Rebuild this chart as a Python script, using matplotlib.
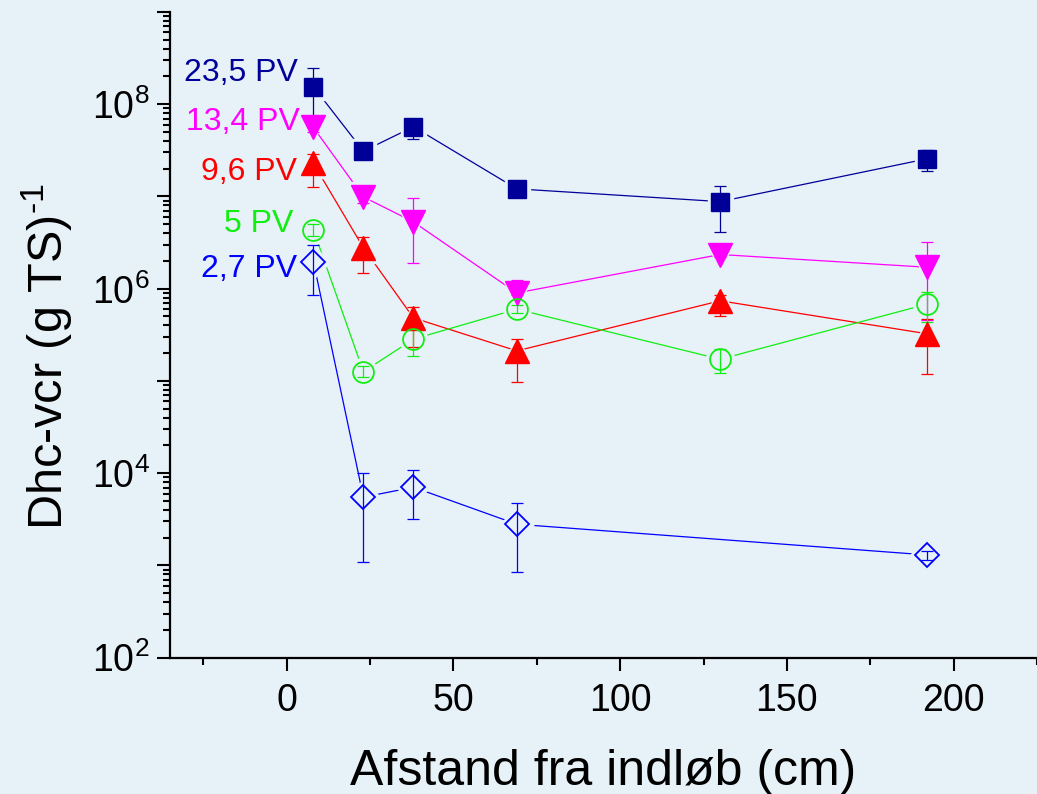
import numpy as np
import matplotlib
matplotlib.use("Agg")
import matplotlib.pyplot as plt
from matplotlib.ticker import MultipleLocator, LogLocator, FuncFormatter, NullFormatter

plt.rcParams['font.family'] = ['Liberation Sans', 'DejaVu Sans']
plt.rcParams['mathtext.fontset'] = 'custom'
plt.rcParams['mathtext.rm'] = 'Liberation Sans'
plt.rcParams['mathtext.it'] = 'Liberation Sans:italic'
plt.rcParams['mathtext.bf'] = 'Liberation Sans:bold'

# distance from inlet (cm)
dist = [8, 23, 38, 69, 130, 192]
dist_27 = [8, 23, 38, 69, 192]

# Dhc-vcr per g TS, value / lower error bound / upper error bound
pv235 = [1.55e8, 3.1e7, 5.7e7, 1.21e7, 8.8e6, 2.56e7]
pv235_lo = [6.5e7, 2.8e7, 4.2e7, 1.15e7, 4.1e6, 1.87e7]
pv235_hi = [2.5e8, 3.4e7, 6.2e7, 1.3e7, 1.31e7, 3.2e7]

pv134 = [5.6e7, 9.9e6, 5.3e6, 9.0e5, 2.35e6, 1.71e6]
pv134_lo = [5.0e7, 8.5e6, 1.9e6, 8.5e5, 2.2e6, 4.6e5]
pv134_hi = [6.2e7, 1.2e7, 9.7e6, 1.24e6, 3.0e6, 3.25e6]

pv96 = [2.28e7, 2.78e6, 4.83e5, 2.12e5, 7.4e5, 3.25e5]
pv96_lo = [1.28e7, 1.48e6, 2.35e5, 9.8e4, 5.0e5, 1.19e5]
pv96_hi = [2.9e7, 3.6e6, 6.4e5, 2.87e5, 8.6e5, 4.7e5]

pv5 = [4.35e6, 1.26e5, 2.84e5, 6.0e5, 1.72e5, 6.8e5]
pv5_lo = [3.7e6, 1.1e5, 1.88e5, 5.5e5, 1.23e5, 4.35e5]
pv5_hi = [5.0e6, 1.45e5, 3.9e5, 6.6e5, 2.2e5, 9.2e5]

pv27 = [1.97e6, 5.5e3, 7.05e3, 2.8e3, 1.3e3]
pv27_lo = [8.6e5, 1.08e3, 3.2e3, 8.4e2, 1.15e3]
pv27_hi = [3.0e6, 1.0e4, 1.09e4, 4.8e3, 1.45e3]

labels = ['23,5 PV', '13,4 PV', '9,6 PV', '5 PV', '2,7 PV']

bg = '#e7f1f8'

series = [
    (dist, pv235, pv235_lo, pv235_hi, '#000099', 's', 13, True),
    (dist, pv134, pv134_lo, pv134_hi, '#ff00ff', 'v', 17, True),
    (dist, pv96, pv96_lo, pv96_hi, '#ff0000', '^', 17, True),
    (dist, pv5, pv5_lo, pv5_hi, '#11ee11', 'o', 15, False),
    (dist_27, pv27, pv27_lo, pv27_hi, '#0000ff', 'D', 12, False),
]

fig = plt.figure(figsize=(10.37, 7.94), dpi=100, facecolor=bg)
ax = fig.add_axes([170 / 1037, (794 - 657.7) / 794, 1 - 170 / 1037, (657.7 - 12) / 794])
ax.set_facecolor(bg)

for x, y, lo, hi, c, m, ms, filled in series:
    y = np.array(y)
    yerr = [y - np.array(lo), np.array(hi) - y]
    ax.plot(x, y, '-', color=c, lw=0.9, zorder=1)
    # background coloured marker leaves a small gap around each symbol
    ax.plot(x, y, ls='none', marker=m, ms=ms + 5, color=bg, mec=bg, zorder=2)
    ax.errorbar(x, y, yerr=yerr, fmt='none', ecolor=c, elinewidth=0.9,
                capsize=4.3, capthick=0.9, zorder=3)
    if filled:
        ax.plot(x, y, ls='none', marker=m, ms=ms, color=c, mec=c, zorder=4)
    else:
        ax.plot(x, y, ls='none', marker=m, ms=ms, mfc='none', mec=c, mew=1.3, zorder=4)

ax.set_yscale('log')
ax.set_ylim(1e2, 1e9)
ax.set_xlim(-35, 225)

ax.xaxis.set_major_locator(MultipleLocator(50))
ax.xaxis.set_minor_locator(MultipleLocator(25))
ax.yaxis.set_major_locator(LogLocator(base=10, numticks=20))
ax.yaxis.set_minor_locator(LogLocator(base=10, subs=np.arange(2, 10), numticks=20))
ax.yaxis.set_minor_formatter(NullFormatter())


def fmt(v, pos):
    e = int(round(np.log10(v)))
    return r'$10^{%d}$' % e if e % 2 == 0 else ''


ax.yaxis.set_major_formatter(FuncFormatter(fmt))

for s in ['top', 'right']:
    ax.spines[s].set_visible(False)
for s in ['left', 'bottom']:
    ax.spines[s].set_linewidth(1.6)

ax.tick_params(which='major', direction='out', length=9.5, width=1.5, labelsize=27, pad=5)
ax.tick_params(axis='x', which='major', pad=8.5)
ax.tick_params(which='minor', direction='out', length=5, width=1.5)

ax.set_xlabel('Afstand fra indløb (cm)', fontsize=36, labelpad=22)
ax.set_ylabel(r'Dhc-vcr (g TS)$^{\text{-}1}$', fontsize=35, labelpad=12)
ax.yaxis.label.set_y(0.467)

# series labels at the left
label_pos = [(298, 73), (300, 122), (297, 172), (293, 224), (297, 269)]
for (px, py), lab, s in zip(label_pos, labels, series):
    fig.text(px / 1037, 1 - py / 794, lab, color=s[4], fontsize=23,
             ha='right', va='center')

fig.savefig('out.png', dpi=100, facecolor=bg)
